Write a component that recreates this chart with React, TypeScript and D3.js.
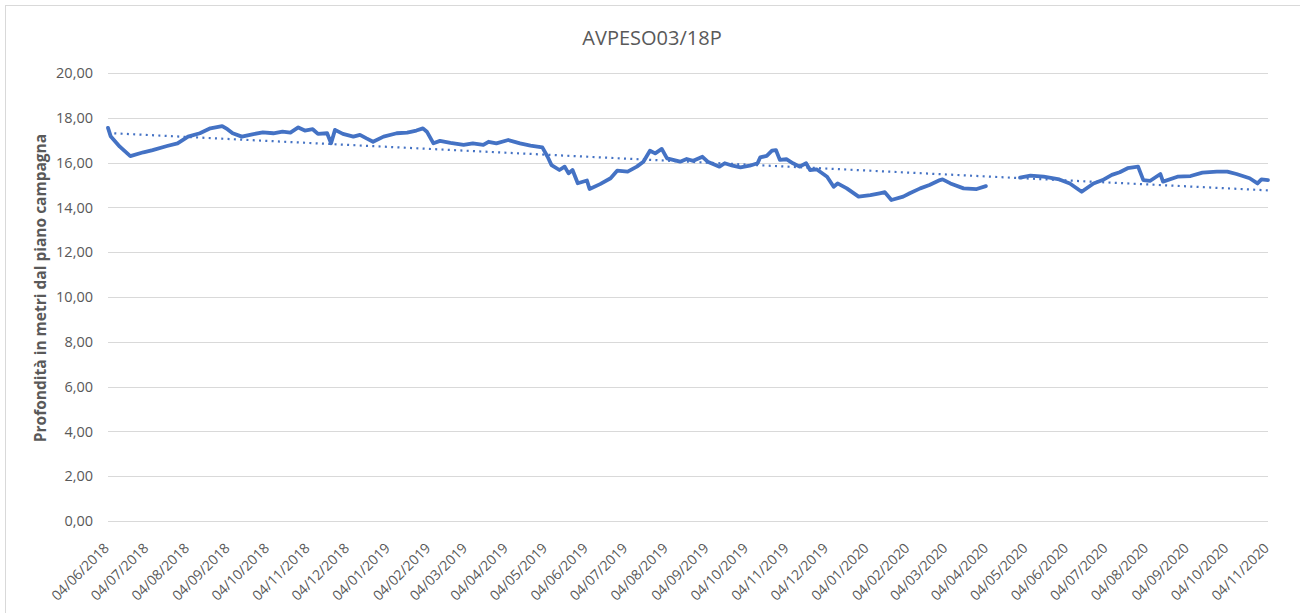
import React, { useEffect, useRef } from 'react';
import * as d3 from 'd3';

// titolo e etichette
const chartTitle = 'AVPESO03/18P';
const yAxisLabel = 'Profondità in metri dal piano campagna';
const yTicks = [0, 2, 4, 6, 8, 10, 12, 14, 16, 18, 20];
const xStart = '2018-06-04';
const xEnd = '2020-11-04';

const seriesA: [string, number][] = [
  ['2018-06-04', 17.55], ['2018-06-06', 17.18], ['2018-06-13', 16.71], ['2018-06-21', 16.29],
  ['2018-07-01', 16.46], ['2018-07-08', 16.56], ['2018-07-19', 16.74], ['2018-07-27', 16.86],
  ['2018-08-04', 17.16], ['2018-08-13', 17.31], ['2018-08-21', 17.53], ['2018-08-30', 17.63],
  ['2018-09-03', 17.49], ['2018-09-07', 17.31], ['2018-09-14', 17.16], ['2018-09-22', 17.26],
  ['2018-09-30', 17.35], ['2018-10-08', 17.31], ['2018-10-15', 17.38], ['2018-10-21', 17.34],
  ['2018-10-27', 17.57], ['2018-11-01', 17.43], ['2018-11-07', 17.49], ['2018-11-11', 17.28],
  ['2018-11-18', 17.31], ['2018-11-21', 16.86], ['2018-11-24', 17.46], ['2018-11-30', 17.28],
  ['2018-12-08', 17.16], ['2018-12-13', 17.24], ['2018-12-18', 17.08], ['2018-12-23', 16.93],
  ['2018-12-31', 17.16], ['2019-01-10', 17.31], ['2019-01-18', 17.34], ['2019-01-25', 17.43],
  ['2019-01-30', 17.53], ['2019-02-02', 17.38], ['2019-02-07', 16.86], ['2019-02-12', 16.97],
  ['2019-02-20', 16.88], ['2019-03-02', 16.79], ['2019-03-09', 16.86], ['2019-03-17', 16.79],
  ['2019-03-21', 16.93], ['2019-03-27', 16.86], ['2019-04-05', 17.01], ['2019-04-14', 16.86],
  ['2019-04-22', 16.76], ['2019-05-01', 16.68], ['2019-05-05', 16.26], ['2019-05-08', 15.89],
  ['2019-05-14', 15.67], ['2019-05-18', 15.82], ['2019-05-21', 15.52], ['2019-05-24', 15.67],
  ['2019-05-28', 15.08], ['2019-06-04', 15.2], ['2019-06-06', 14.82], ['2019-06-14', 15.04],
  ['2019-06-22', 15.3], ['2019-06-27', 15.64], ['2019-07-05', 15.6], ['2019-07-12', 15.82],
  ['2019-07-17', 16.04], ['2019-07-22', 16.53], ['2019-07-26', 16.41], ['2019-07-31', 16.61],
  ['2019-08-04', 16.19], ['2019-08-14', 16.04], ['2019-08-19', 16.16], ['2019-08-24', 16.08],
  ['2019-08-31', 16.26], ['2019-09-04', 16.04], ['2019-09-13', 15.82], ['2019-09-17', 15.97],
  ['2019-09-23', 15.86], ['2019-09-29', 15.79], ['2019-10-06', 15.86], ['2019-10-12', 15.97],
  ['2019-10-14', 16.23], ['2019-10-19', 16.3], ['2019-10-23', 16.53], ['2019-10-26', 16.56],
  ['2019-10-29', 16.12], ['2019-11-03', 16.15], ['2019-11-08', 15.97], ['2019-11-13', 15.82],
  ['2019-11-18', 15.97], ['2019-11-21', 15.67], ['2019-11-26', 15.7], ['2019-12-04', 15.37],
  ['2019-12-09', 14.92], ['2019-12-12', 15.07], ['2019-12-19', 14.85], ['2019-12-28', 14.48],
  ['2020-01-06', 14.55], ['2020-01-13', 14.63], ['2020-01-17', 14.68], ['2020-01-22', 14.33],
  ['2020-01-31', 14.48], ['2020-02-05', 14.63], ['2020-02-13', 14.85], ['2020-02-20', 15.0],
  ['2020-02-28', 15.22], ['2020-03-01', 15.25], ['2020-03-07', 15.07], ['2020-03-17', 14.85],
  ['2020-03-27', 14.82], ['2020-04-03', 14.95],
];

// secondo tratto, dopo la lacuna di aprile 2020
const seriesB: [string, number][] = [
  ['2020-04-29', 15.33], ['2020-05-07', 15.42], ['2020-05-17', 15.37], ['2020-05-29', 15.25],
  ['2020-06-06', 15.07], ['2020-06-15', 14.7], ['2020-06-24', 15.07], ['2020-07-01', 15.22],
  ['2020-07-08', 15.45], ['2020-07-14', 15.57], ['2020-07-20', 15.75], ['2020-07-28', 15.82],
  ['2020-08-01', 15.22], ['2020-08-06', 15.18], ['2020-08-14', 15.49], ['2020-08-16', 15.15],
  ['2020-08-27', 15.37], ['2020-09-06', 15.4], ['2020-09-15', 15.55], ['2020-09-26', 15.6],
  ['2020-10-04', 15.6], ['2020-10-11', 15.49], ['2020-10-21', 15.3], ['2020-10-27', 15.07],
  ['2020-10-30', 15.25], ['2020-11-04', 15.22],
];

// linea di tendenza lineare (valori agli estremi dell'asse)
const trendValues: [string, number][] = [['2018-06-04', 17.32], ['2020-11-04', 14.76]];

const W = 1300;
const H = 613;
const FONT = '"Open Sans", "Liberation Sans", sans-serif';
const BLUE = '#4472C4';
const GREY_TEXT = '#595959';

const App = () => {
  const svgRef = useRef<SVGSVGElement>(null);

  useEffect(() => {
    const parse = d3.timeParse('%Y-%m-%d');
    const fmt = d3.timeFormat('%d/%m/%Y');
    const margin = { top: 73, right: 32, bottom: 92, left: 108 };

    const svg = d3.select(svgRef.current);
    svg.selectAll('*').remove();

    svg.append('rect')
      .attr('x', 0).attr('y', 0).attr('width', W).attr('height', H)
      .attr('fill', '#fff');
    // cornice del grafico
    svg.append('rect')
      .attr('x', 5.5).attr('y', 5.5).attr('width', W + 20).attr('height', H + 20)
      .attr('fill', 'none').attr('stroke', '#D9D9D9');

    const x = d3.scaleTime()
      .domain([parse(xStart)!, parse(xEnd)!])
      .range([margin.left, W - margin.right]);
    const y = d3.scaleLinear()
      .domain([0, 20])
      .range([H - margin.bottom, margin.top]);

    // griglia
    svg.append('g').selectAll('line').data(yTicks).enter().append('line')
      .attr('x1', margin.left).attr('x2', W - margin.right)
      .attr('y1', d => Math.round(y(d)) + 0.5).attr('y2', d => Math.round(y(d)) + 0.5)
      .attr('stroke', '#D9D9D9').attr('stroke-width', 1);

    // etichette asse y
    svg.append('g').selectAll('text').data(yTicks).enter().append('text')
      .attr('x', 93).attr('y', d => y(d))
      .attr('dy', '0.36em')
      .attr('text-anchor', 'end')
      .style('font-family', FONT).style('font-size', '14.5px').style('fill', GREY_TEXT)
      .text(d => d.toFixed(2).replace('.', ','));

    // etichette asse x, una al mese
    const months = d3.range(0, 30).map(i => d3.timeMonth.offset(parse(xStart)!, i));
    svg.append('g').selectAll('text').data(months).enter().append('text')
      .attr('transform', d => `translate(${x(d) + 2},${H - margin.bottom + 28}) rotate(-45)`)
      .attr('text-anchor', 'end')
      .style('font-family', FONT).style('font-size', '14px').style('fill', GREY_TEXT)
      .text(d => fmt(d));

    // titolo
    svg.append('text')
      .attr('x', 652).attr('y', 45)
      .attr('text-anchor', 'middle')
      .style('font-family', FONT).style('font-size', '20px').style('fill', GREY_TEXT)
      .text(chartTitle);

    // titolo asse y
    svg.append('text')
      .attr('transform', `translate(46,288) rotate(-90)`)
      .attr('text-anchor', 'middle')
      .style('font-family', FONT).style('font-size', '15.5px').style('font-weight', 'bold')
      .style('fill', GREY_TEXT)
      .text(yAxisLabel);

    const line = d3.line<[string, number]>()
      .x(d => x(parse(d[0])!))
      .y(d => y(d[1]))
      .curve(d3.curveLinear);

    // tendenza
    svg.append('path')
      .attr('d', line(trendValues))
      .attr('fill', 'none').attr('stroke', BLUE)
      .attr('stroke-width', 2.2).attr('stroke-dasharray', '2,4.3');

    // serie
    [seriesA, seriesB].forEach(s => {
      svg.append('path')
        .attr('d', line(s))
        .attr('fill', 'none').attr('stroke', BLUE)
        .attr('stroke-width', 3.8).attr('stroke-linejoin', 'round').attr('stroke-linecap', 'round');
    });
  }, []);

  return (
    <svg ref={svgRef} width={W} height={H}
      style={{ position: 'absolute', left: 0, top: 0, display: 'block' }} />
  );
};

export default App;
